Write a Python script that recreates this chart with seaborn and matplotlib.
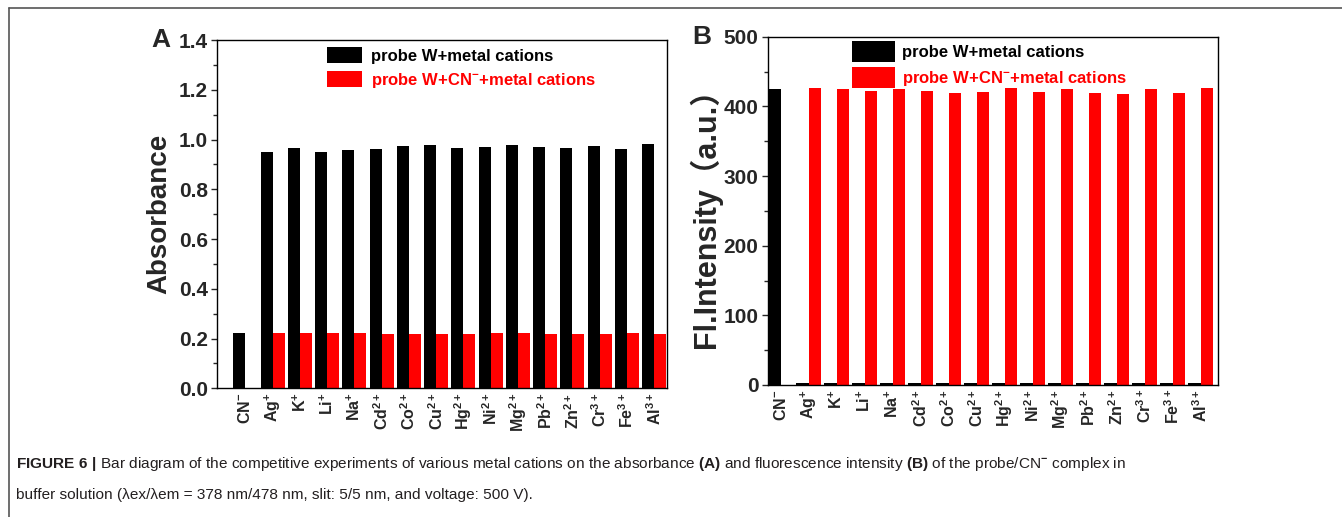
import numpy as np
import pandas as pd
import seaborn as sns
import matplotlib
matplotlib.use("Agg")
import matplotlib.pyplot as plt
from matplotlib.patches import Patch
from matplotlib.lines import Line2D
from matplotlib.ticker import MultipleLocator, FormatStrFormatter

# ---------------- data ----------------
ions = ["CN-", "Ag+", "K+", "Li+", "Na+", "Cd2+", "Co2+", "Cu2+", "Hg2+",
        "Ni2+", "Mg2+", "Pb2+", "Zn2+", "Cr3+", "Fe3+", "Al3+"]
tick_labels = [r"$\mathbf{CN^{-}}$", r"$\mathbf{Ag^{+}}$", r"$\mathbf{K^{+}}$",
               r"$\mathbf{Li^{+}}$", r"$\mathbf{Na^{+}}$", r"$\mathbf{Cd^{2+}}$",
               r"$\mathbf{Co^{2+}}$", r"$\mathbf{Cu^{2+}}$", r"$\mathbf{Hg^{2+}}$",
               r"$\mathbf{Ni^{2+}}$", r"$\mathbf{Mg^{2+}}$", r"$\mathbf{Pb^{2+}}$",
               r"$\mathbf{Zn^{2+}}$", r"$\mathbf{Cr^{3+}}$", r"$\mathbf{Fe^{3+}}$",
               r"$\mathbf{Al^{3+}}$"]
series_names = ["probe W+metal cations", r"probe W+CN$^{\mathbf{-}}$+metal cations"]

abs_probe_metal = [0.223, 0.949, 0.967, 0.950, 0.959, 0.962, 0.975, 0.977, 0.967,
                   0.970, 0.979, 0.970, 0.966, 0.974, 0.962, 0.983]
abs_probe_cn_metal = [np.nan, 0.221, 0.221, 0.221, 0.221, 0.218, 0.220, 0.220, 0.217,
                      0.221, 0.221, 0.220, 0.220, 0.220, 0.221, 0.220]
fl_probe_metal = [425.0, 2.5, 3.0, 3.0, 3.5, 3.0, 3.5, 3.5, 3.0,
                  3.5, 3.0, 3.5, 3.5, 3.0, 3.5, 3.0]
fl_probe_cn_metal = [np.nan, 426.5, 425.0, 421.8, 425.0, 421.8, 418.5, 420.4, 426.0,
                     419.9, 425.0, 419.4, 418.0, 424.6, 419.4, 426.0]

caption_line1 = (r"$\mathbf{FIGURE\ 6\ |}$ Bar diagram of the competitive experiments of various "
                 r"metal cations on the absorbance $\mathbf{(A)}$ and fluorescence intensity "
                 r"$\mathbf{(B)}$ of the probe/CN$^{\mathrm{-}}$ complex in")
caption_line2 = "buffer solution (λex/λem = 378 nm/478 nm, slit: 5/5 nm, and voltage: 500 V)."

# ---------------- style ----------------
sns.set_theme(style="ticks")
plt.rcParams["font.family"] = ["Liberation Sans", "Noto Sans CJK SC", "DejaVu Sans"]
plt.rcParams["font.weight"] = "bold"
plt.rcParams["axes.labelweight"] = "bold"
plt.rcParams["mathtext.fontset"] = "custom"
plt.rcParams["mathtext.rm"] = "Liberation Sans"
plt.rcParams["mathtext.bf"] = "Liberation Sans:bold"
plt.rcParams["mathtext.it"] = "Liberation Sans:italic"
plt.rcParams["axes.linewidth"] = 1.0

W, H = 1342, 517
fig = plt.figure(figsize=(W / 100, H / 100), dpi=100)
fig.patch.set_facecolor("white")

axA = fig.add_axes([217.3 / W, 1 - 388.3 / H, 450 / W, 348.3 / H])
axB = fig.add_axes([767.7 / W, 1 - 385.0 / H, 450 / W, 348.3 / H])

colors = ["#000000", "#ff0000"]


def make_df(a, b):
    return pd.DataFrame({
        "ion": ions * 2,
        "series": [series_names[0]] * len(ions) + [series_names[1]] * len(ions),
        "value": list(a) + list(b),
    })


def draw(ax, df, width, xlim):
    sns.barplot(data=df, x="ion", y="value", hue="series", order=ions,
                hue_order=series_names, palette=colors, width=width,
                saturation=1, errorbar=None, linewidth=0, legend=False, ax=ax)
    ax.set_xlim(*xlim)
    ax.set_xticks(range(len(ions)))
    ax.set_xticklabels(tick_labels, rotation=90, fontsize=11.5)
    ax.tick_params(axis="x", length=0, pad=3)
    ax.tick_params(axis="y", which="major", direction="out", length=4.2, width=1.0,
                   labelsize=15, pad=2.5)
    ax.tick_params(axis="y", which="minor", direction="out", length=2.8, width=1.0)
    for s in ax.spines.values():
        s.set_visible(True)
        s.set_color("black")
        s.set_linewidth(1.0)
    ax.set_xlabel("")
    for t in ax.get_yticklabels():
        t.set_fontweight("bold")


# Panel A
draw(axA, make_df(abs_probe_metal, abs_probe_cn_metal), 0.88, (-1.03, 15.48))
axA.set_ylim(0, 1.4)
axA.yaxis.set_major_locator(MultipleLocator(0.2))
axA.yaxis.set_minor_locator(MultipleLocator(0.1))
axA.yaxis.set_major_formatter(FormatStrFormatter("%.1f"))
axA.set_ylabel("Absorbance", fontsize=20, fontweight="bold", labelpad=5)

# Panel B
draw(axB, make_df(fl_probe_metal, fl_probe_cn_metal), 0.9, (-0.46, 15.61))
axB.set_ylim(0, 500)
axB.yaxis.set_major_locator(MultipleLocator(100))
axB.yaxis.set_minor_locator(MultipleLocator(50))
axB.set_ylabel("Fl.Intensity（a.u.）", fontsize=22, fontweight="bold", labelpad=1)

# Legends
handles = [Patch(facecolor=colors[0], edgecolor="none"),
           Patch(facecolor=colors[1], edgecolor="none")]
axA.legend(handles=handles, labels=series_names, loc="upper left",
           bbox_to_anchor=(327 / W, 1 - 47 / H), bbox_transform=fig.transFigure,
           frameon=False, borderpad=0, borderaxespad=0, handlelength=2.1,
           handleheight=1.1, labelspacing=0.42, handletextpad=0.54,
           prop={"weight": "bold", "size": 12}, labelcolor=colors)
axB.legend(handles=handles, labels=series_names, loc="upper left",
           bbox_to_anchor=(852.4 / W, 1 - 41 / H), bbox_transform=fig.transFigure,
           frameon=False, borderpad=0, borderaxespad=0, handlelength=2.58,
           handleheight=1.55, labelspacing=0.3, handletextpad=0.39,
           prop={"weight": "bold", "size": 12}, labelcolor=colors)

# Panel letters
fig.text(151.7 / W, 1 - 47 / H, "A", fontsize=19, fontweight="bold", va="baseline")
fig.text(692 / W, 1 - 43.5 / H, "B", fontsize=19, fontweight="bold", va="baseline")

# Caption
fig.text(16 / W, 1 - 464 / H, caption_line1, fontsize=11.1, fontweight="normal",
         color="#231f20", va="center", ha="left")
fig.text(16 / W, 1 - 495 / H, caption_line2, fontsize=11.1, fontweight="normal",
         color="#231f20", va="center", ha="left")

# Frame lines of the figure box
fig.add_artist(Line2D([9 / W, 9 / W], [0, 1 - 8 / H], transform=fig.transFigure,
                      color="#555555", lw=1.2))
fig.add_artist(Line2D([9 / W, 1], [1 - 8 / H, 1 - 8 / H], transform=fig.transFigure,
                      color="#555555", lw=1.2))

fig.savefig("out.png", dpi=100, facecolor="white")
